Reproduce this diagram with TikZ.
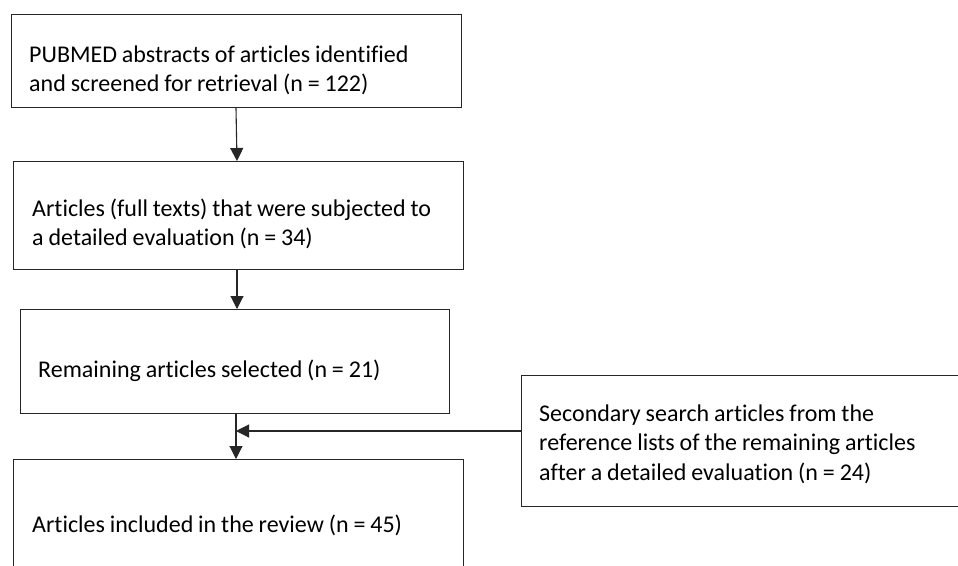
\documentclass[tikz,border=0pt]{standalone}
\usepackage{fontspec}
\setmainfont{Carlito}[Ligatures=NoCommon,WordSpace=0.9]
\usetikzlibrary{arrows.meta}
\begin{document}
\begin{tikzpicture}[x=1pt,y=-1pt,
  box/.style={draw=black!85, line width=1.1pt, anchor=north west, inner sep=0pt},
  lbl/.style={anchor=west, align=left, inner sep=0pt,
    font=\fontsize{24}{29.3}\selectfont},
  arr/.style={draw=black!85, line width=1.1pt, -{Triangle[width=13pt,length=13pt]}}]
\useasboundingbox (0,0) rectangle (958,565);
\clip (0,0) rectangle (958,565);
\fill[white] (0,0) rectangle (958,565);
\node[box, minimum width=450pt, minimum height=93pt,
  label={[lbl, xshift=18pt, yshift=-9pt]west:{PUBMED abstracts of articles identified\\and screened for retrieval (n = 122)}}] (b1) at (11,14) {};
\node[box, minimum width=450pt, minimum height=108pt,
  label={[lbl, xshift=19pt, yshift=-8pt]west:{Articles (full texts) that were subjected to\\a detailed evaluation (n = 34)}}] (b2) at (13,161) {};
\node[box, minimum width=429pt, minimum height=104pt,
  label={[lbl, xshift=18pt, yshift=-9pt]west:{Remaining articles selected (n = 21)}}] (b3) at (20,309) {};
\node[box, minimum width=450pt, minimum height=131pt,
  label={[lbl, xshift=19pt, yshift=0pt]west:{Articles included in the review (n = 45)}}] (b4) at (13,459) {};
\node[box, minimum width=436.5pt, minimum height=131pt,
  label={[lbl, xshift=18pt, yshift=-3pt]west:{Secondary search articles from the\\reference lists of the remaining articles\\after a detailed evaluation (n = 24)}}] (b5) at (521,375) {};
\coordinate (cx) at (236,0);
\coordinate (j) at (236,431);
\draw[arr] (b1.south -| cx) -- ([xshift=1pt]b2.north -| cx);
\draw[arr] ([xshift=1pt]b2.south -| cx) -- ([xshift=1pt]b3.north -| cx);
\draw[arr] (b3.south -| cx) -- (b4.north -| cx);
\draw[arr] (b5.west |- j) -- (j);
\end{tikzpicture}
\end{document}
